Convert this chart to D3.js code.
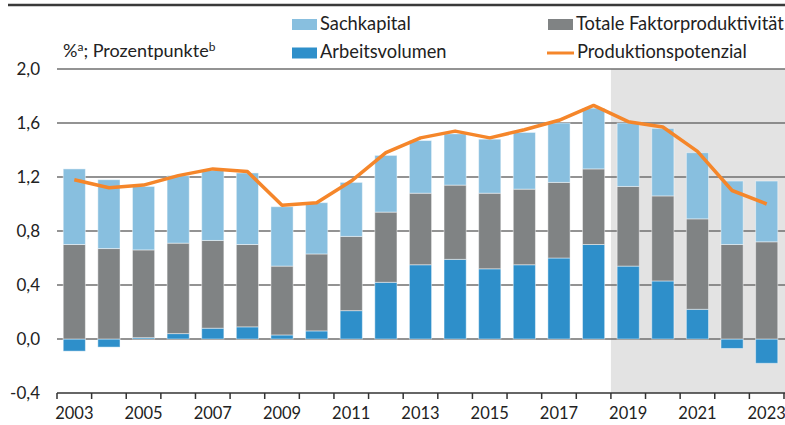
<!DOCTYPE html>
<html>
<head>
<meta charset="utf-8">
<script src="https://cdn.jsdelivr.net/npm/d3@7"></script>
<style>
  html, body { margin: 0; padding: 0; background: #fff; }
  svg { display: block; font-family: "Lato", "Noto Sans", sans-serif; }
</style>
</head>
<body>
<svg id="chart" width="785" height="425"></svg>
<script>
// Wachstumsbeiträge zum Produktionspotenzial, 2003–2023
const years = d3.range(2003, 2024);
const arbeitsvolumen = [-0.09, -0.06, 0.01, 0.04, 0.08, 0.09, 0.03, 0.06, 0.21, 0.42, 0.55,
                        0.59, 0.52, 0.55, 0.60, 0.70, 0.54, 0.43, 0.22, -0.07, -0.18];
const tfp = [0.70, 0.67, 0.65, 0.67, 0.65, 0.61, 0.51, 0.57, 0.55, 0.52, 0.53,
             0.55, 0.56, 0.56, 0.56, 0.56, 0.59, 0.63, 0.67, 0.70, 0.72];
const sachkapital = [0.56, 0.51, 0.47, 0.50, 0.52, 0.53, 0.44, 0.38, 0.40, 0.42, 0.39,
                     0.38, 0.40, 0.42, 0.44, 0.45, 0.47, 0.50, 0.49, 0.47, 0.45];
const produktionspotenzial = [1.18, 1.12, 1.14, 1.21, 1.26, 1.24, 0.99, 1.01, 1.17, 1.38, 1.49,
                              1.54, 1.49, 1.55, 1.62, 1.73, 1.61, 1.57, 1.39, 1.10, 1.00];
const yTicks = [-0.4, 0, 0.4, 0.8, 1.2, 1.6, 2.0];
const xLabelYears = years.filter(y => y % 2 === 1);
const projectionStart = 2019;

const colors = {
  sach: "#88bfdf",
  tfp: "#808384",
  arbeit: "#2e8fca",
  line: "#f5862a",
  grid: "#6f6f6f",
  shade: "#e3e3e3"
};

const svg = d3.select("#chart");
const plotLeft = 57, plotRight = 784, plotTop = 69, plotBottom = 393;

const x = d3.scaleBand().domain(years).range([plotLeft, plotRight]).paddingInner(0.36).paddingOuter(0.18);
const y = d3.scaleLinear().domain([-0.4, 2.0]).range([plotBottom, plotTop]);

// top rule
svg.append("line").attr("x1", 8).attr("x2", 785).attr("y1", 5).attr("y2", 5)
  .attr("stroke", "#3a3a3a").attr("stroke-width", 2.5);

// projection shading
const shadeX = x(projectionStart) - x.step() * x.paddingInner() / 2;
svg.append("rect").attr("x", shadeX).attr("y", y(2.0)).attr("width", plotRight - shadeX + 1)
  .attr("height", y(-0.4) - y(2.0)).attr("fill", colors.shade);

// gridlines
svg.append("g").selectAll("line").data(yTicks.filter(t => t > -0.4)).join("line")
  .attr("x1", plotLeft).attr("x2", plotRight + 1)
  .attr("y1", d => y(d)).attr("y2", d => y(d))
  .attr("stroke", colors.grid).attr("stroke-width", 1.5);

// y tick labels
svg.append("g").selectAll("text").data(yTicks).join("text")
  .attr("x", 40).attr("y", d => y(d)).attr("dy", "0.36em")
  .attr("text-anchor", "end").attr("font-size", 17).attr("fill", "#222")
  .text(d => d3.format(".1f")(d).replace(".", ",").replace("−", "-"));

// stacked bars
const rows = years.map((yr, i) => ({ yr, a: arbeitsvolumen[i], t: tfp[i], s: sachkapital[i] }));
const segs = [];
rows.forEach(r => {
  const base = Math.max(r.a, 0);
  segs.push({ yr: r.yr, y0: Math.min(r.a, 0), y1: base, c: colors.arbeit });
  segs.push({ yr: r.yr, y0: base, y1: base + r.t, c: colors.tfp });
  segs.push({ yr: r.yr, y0: base + r.t, y1: base + r.t + r.s, c: colors.sach });
});
svg.append("g").selectAll("rect").data(segs).join("rect")
  .attr("x", d => x(d.yr)).attr("width", x.bandwidth())
  .attr("y", d => y(Math.max(d.y0, d.y1)))
  .attr("height", d => Math.abs(y(d.y0) - y(d.y1)))
  .attr("fill", d => d.c)
  .attr("stroke", "rgba(255,255,255,0.45)").attr("stroke-width", 1);

// line
const line = d3.line().x((d, i) => x(years[i]) + x.bandwidth() / 2).y(d => y(d));
svg.append("path").datum(produktionspotenzial).attr("d", line)
  .attr("fill", "none").attr("stroke", colors.line).attr("stroke-width", 3.5)
  .attr("stroke-linejoin", "round");

// x axis
const xAxis = d3.axisBottom(x).tickSize(0).tickPadding(3).tickFormat(d => xLabelYears.includes(d) ? d : "");
const gx = svg.append("g").attr("transform", `translate(0,${plotBottom})`).call(xAxis);
gx.select(".domain").remove();
gx.selectAll("text").attr("font-size", 16.5).attr("fill", "#222").attr("dy", "1.4em")
  .attr("font-family", "Lato, sans-serif");
svg.append("line").attr("x1", plotLeft).attr("x2", plotRight + 1).attr("y1", plotBottom).attr("y2", plotBottom)
  .attr("stroke", "#333").attr("stroke-width", 1.5);
const boundaries = years.map(yr => x(yr) - x.step() * x.paddingInner() / 2).concat([plotRight]);
svg.append("g").selectAll("line").data(boundaries).join("line")
  .attr("x1", d => d).attr("x2", d => d).attr("y1", plotBottom).attr("y2", plotBottom + 6)
  .attr("stroke", "#333").attr("stroke-width", 1.5);

// unit label
const ul = svg.append("text").attr("x", 63).attr("y", 57).attr("font-size", 18).attr("fill", "#222");
ul.append("tspan").text("%");
ul.append("tspan").attr("font-size", 12).attr("dy", -6).text("a");
ul.append("tspan").attr("dy", 6).text("; Prozentpunkte");
ul.append("tspan").attr("font-size", 12).attr("dy", -6).text("b");

// legend
const legend = [
  { label: "Sachkapital", c: colors.sach, type: "box", x: 292, y: 19 },
  { label: "Arbeitsvolumen", c: colors.arbeit, type: "box", x: 292, y: 47.5 },
  { label: "Totale Faktorproduktivität", c: colors.tfp, type: "box", x: 548, y: 19 },
  { label: "Produktionspotenzial", c: colors.line, type: "line", x: 547, y: 47.5 }
];
const lg = svg.append("g").selectAll("g").data(legend).join("g");
lg.filter(d => d.type === "box").append("rect")
  .attr("x", d => d.x).attr("y", d => d.y).attr("width", 25).attr("height", 11).attr("fill", d => d.c);
lg.filter(d => d.type === "line").append("line")
  .attr("x1", d => d.x).attr("x2", d => d.x + 27).attr("y1", d => d.y + 5.5).attr("y2", d => d.y + 5.5)
  .attr("stroke", d => d.c).attr("stroke-width", 3);
lg.append("text").attr("x", d => d.x + (d.type === "line" ? 30 : 28)).attr("y", d => d.y + 10.5)
  .attr("font-size", 18.3).attr("fill", "#222").text(d => d.label);
</script>
</body>
</html>
